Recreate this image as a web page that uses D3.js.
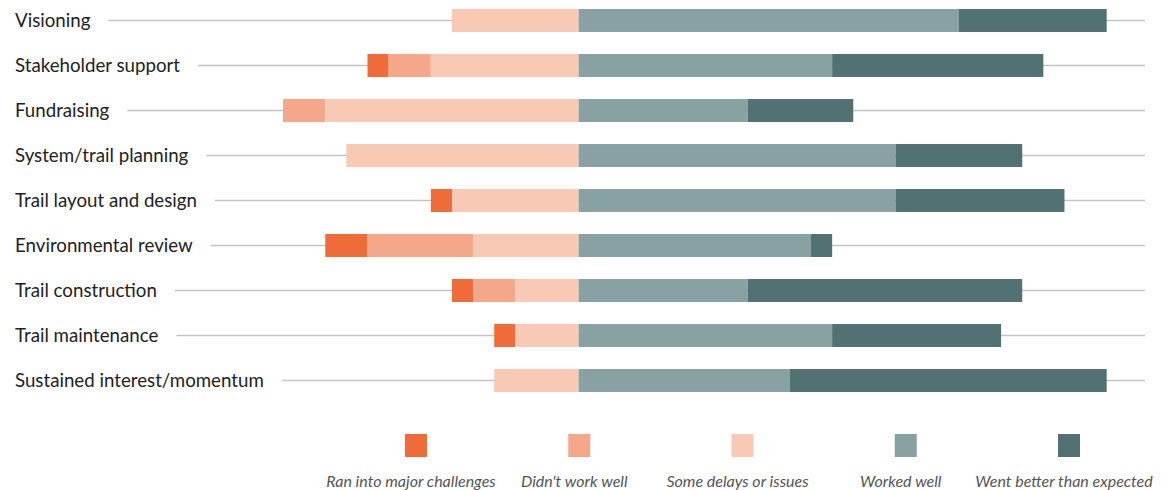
<!DOCTYPE html>
<html><head><meta charset="utf-8">
<script src="https://cdn.jsdelivr.net/npm/d3@7"></script>
<style>
body{margin:0;background:#fff;}
svg{display:block;}
</style>
</head><body>
<svg id="chart" width="1169" height="490"></svg>
<script>
const categories = ["Visioning","Stakeholder support","Fundraising","System/trail planning","Trail layout and design","Environmental review","Trail construction","Trail maintenance","Sustained interest/momentum"];
const seriesNames = ["Ran into major challenges","Didn't work well","Some delays or issues","Worked well","Went better than expected"];
const majorChallenges = [0,1,0,0,1,2,1,1,0];
const didntWorkWell   = [0,2,2,0,0,5,2,0,0];
const someDelays      = [6,7,12,11,6,5,3,3,4];
const workedWell      = [18,12,8,15,15,11,8,12,10];
const wentBetter      = [7,10,5,6,8,1,13,8,15];
const colors = ["#ef6b3a","#f5a889","#f8c9b4","#88a2a3","#527173"];

const svg = d3.select("#chart");
const x = d3.scaleLinear().domain([-15,27]).range([578.7-15*21.12, 578.7+27*21.12]);
const y = d3.scaleBand().domain(categories).range([-2, 403]).paddingInner(0.49).paddingOuter(0.245);

const gridEnd = 1145;
const rows = svg.append("g");
categories.forEach((c,i)=>{
  const cy = y(c)+y.bandwidth()/2;
  const t = rows.append("text").attr("x",15).attr("y",cy+6.8)
    .attr("font-family","Lato, sans-serif").attr("font-size",18.7).attr("fill","#222").text(c);
  const w = t.node().getComputedTextLength();
  rows.append("line").attr("x1",15+w+18).attr("x2",gridEnd).attr("y1",cy).attr("y2",cy)
    .attr("stroke","#c4c4c4").attr("stroke-width",1.5);
});

const data = categories.map((c,i)=>({cat:c, vals:[majorChallenges[i],didntWorkWell[i],someDelays[i],workedWell[i],wentBetter[i]]}));
const bars = svg.append("g");
data.forEach(d=>{
  const neg = d.vals[0]+d.vals[1]+d.vals[2];
  let start = -neg;
  d.vals.forEach((v,k)=>{
    if(v>0){
      bars.append("rect").attr("x",x(start)).attr("width",x(start+v)-x(start))
        .attr("y",y(d.cat)).attr("height",y.bandwidth()).attr("fill",colors[k]);
    }
    start += v;
  });
});

const legX = d3.scalePoint().domain(seriesNames).range([416,1069]);
const leg = svg.append("g");
seriesNames.forEach((s,k)=>{
  leg.append("rect").attr("x",legX(s)-11).attr("y",434).attr("width",22).attr("height",23).attr("fill",colors[k]);
  leg.append("text").attr("x",legX(s)-5).attr("y",487).attr("text-anchor","middle")
    .attr("font-family","Lato, sans-serif").attr("font-style","italic").attr("font-weight",400)
    .attr("font-size",16).attr("fill","#555").text(s);
});
</script>
</body></html>
